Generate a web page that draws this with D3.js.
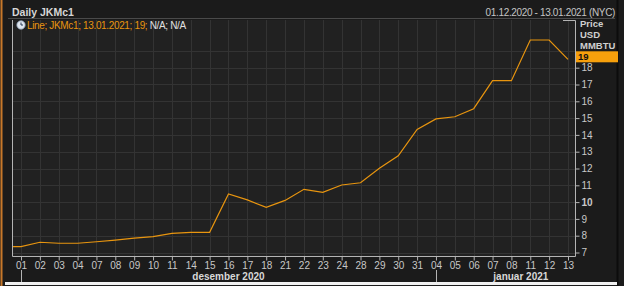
<!DOCTYPE html>
<html>
<head>
<meta charset="utf-8">
<script src="https://cdn.jsdelivr.net/npm/d3@7"></script>
<style>
  body { margin: 0; background: #1b1b1b; }
  svg { display: block; }
  text { font-family: "Liberation Sans", Arial, sans-serif; }
</style>
</head>
<body>
<svg width="624" height="286"></svg>
<script>
// trading days, 01.12.2020 - 13.01.2021
var days = ['01','02','03','04','07','08','09','10','11','14','15','16','17','18','21','22','23','24','28','29','30','31','04','05','06','07','08','11','12','13'];
var prices = [7.35,7.61,7.55,7.55,7.64,7.74,7.85,7.94,8.14,8.2,8.2,10.48,10.13,9.69,10.1,10.76,10.58,11.02,11.15,12.01,12.76,14.33,14.95,15.08,15.56,17.23,17.23,19.65,19.65,18.5];
// month label sits under the middle of the calendar month (index units)
var months = [{name: 'desember 2020', from: 0, mid: 11}, {name: 'januar 2021', from: 22, mid: 26.5}];
var yTicks = [7,8,9,10,11,12,13,14,15,16,17,18];

var svg = d3.select('svg');
var plotLeft = 12, plotRight = 575, plotTop = 20, plotBottom = 256;

var x = d3.scalePoint().domain(d3.range(days.length)).range([21, 568]);
var y = d3.scaleLinear().domain([7, 19]).range([252.5, 50.9]);
var xMid = d3.scaleLinear().domain([0, days.length - 1]).range([21, 568]);

// window chrome
svg.append('rect').attr('x', 0).attr('y', 0).attr('width', 624).attr('height', 286).attr('fill', '#1b1b1b');
svg.append('line').attr('x1', 1.5).attr('x2', 1.5).attr('y1', 0).attr('y2', 286).attr('stroke', '#c8782a').attr('stroke-width', 2);
svg.append('line').attr('x1', 617.5).attr('x2', 617.5).attr('y1', 0).attr('y2', 286).attr('stroke', '#0c0c0c').attr('stroke-width', 2);
svg.append('rect').attr('x', 5).attr('y', 282).attr('width', 612).attr('height', 3).attr('fill', '#f0f0f0');
svg.append('rect').attr('x', 8).attr('y', 18).attr('width', 607).attr('height', 1).attr('fill', '#4a4a4a');

svg.append('text').attr('x', 12).attr('y', 16).attr('fill', '#d6d6d6')
  .style('font-size', '10.5px').style('font-weight', 'bold').text('Daily JKMc1');
svg.append('text').attr('x', 615).attr('y', 16).attr('text-anchor', 'end').attr('fill', '#c4c4c4')
  .style('font-size', '10px').style('letter-spacing', '-0.35px').text('01.12.2020 - 13.01.2021 (NYC)');

// plot area
svg.append('rect').attr('x', plotLeft).attr('y', plotTop).attr('width', plotRight - plotLeft).attr('height', plotBottom - plotTop).attr('fill', '#212121');

svg.append('g').selectAll('line').data(yTicks.concat([19])).enter().append('line')
  .attr('x1', plotLeft).attr('x2', plotRight)
  .attr('y1', function(d) { return Math.round(y(d)) + 0.5; })
  .attr('y2', function(d) { return Math.round(y(d)) + 0.5; })
  .attr('stroke', '#333');
svg.append('g').selectAll('line').data(d3.range(days.length)).enter().append('line')
  .attr('x1', function(d) { return Math.round(x(d)) + 0.5; })
  .attr('x2', function(d) { return Math.round(x(d)) + 0.5; })
  .attr('y1', plotTop).attr('y2', plotBottom)
  .attr('stroke', '#333');

// frame
svg.append('path')
  .attr('d', 'M' + (plotLeft + 0.5) + ',' + plotTop + 'V' + (plotBottom + 0.5) + 'H' + (plotRight + 0.5) + 'V' + (plotTop + 0.5) + 'H' + (plotRight - 12))
  .attr('fill', 'none').attr('stroke', '#b4b4b4');

// the series
var pts = prices.map(function(v, i) { return [x(i), y(v)]; });
pts.unshift([plotLeft + 1, y(prices[0])]);
svg.append('path').datum(pts)
  .attr('d', d3.line())
  .attr('fill', 'none').attr('stroke', '#e8950f').attr('stroke-width', 1.2);

// legend
var leg = svg.append('g');
leg.append('circle').attr('cx', 21).attr('cy', 25).attr('r', 4.2).attr('fill', '#dfe6ee').attr('stroke', '#8a9bb0').attr('stroke-width', 0.8);
leg.append('path').attr('d', 'M21,22.5V25H23').attr('stroke', '#2a3a55').attr('fill', 'none').attr('stroke-width', 1);
var lt = leg.append('text').attr('x', 27).attr('y', 29).style('font-size', '10px').style('letter-spacing', '-0.35px');
lt.append('tspan').attr('fill', '#e8950f').text('Line; JKMc1; 13.01.2021; 19; ');
lt.append('tspan').attr('fill', '#e0e0e0').text('N/A; N/A');

// y axis (right)
var yAxis = d3.axisRight(y).tickValues(yTicks).tickSize(4).tickPadding(2).tickFormat(d3.format('d'));
var ya = svg.append('g').attr('transform', 'translate(' + (plotRight + 0.5) + ',0)').call(yAxis);
ya.select('.domain').remove();
ya.selectAll('line').attr('stroke', '#b4b4b4');
ya.selectAll('text').attr('fill', '#c8c8c8').style('font-size', '10px')
  .style('font-weight', function(d) { return d === 10 ? 'bold' : 'normal'; });

['Price', 'USD', 'MMBTU'].forEach(function(t, i) {
  svg.append('text').attr('x', 580).attr('y', 27 + i * 11).attr('fill', '#d0d0d0')
    .style('font-size', '9.5px').style('font-weight', 'bold').text(t);
});

// last value marker
var last = prices[prices.length - 1];
svg.append('rect').attr('x', 576).attr('y', y(last) - 8).attr('width', 42).attr('height', 11).attr('fill', '#f7a00c');
svg.append('text').attr('x', 578).attr('y', y(last) + 0.5).attr('fill', '#111')
  .style('font-size', '9.5px').style('font-weight', 'bold').text(d3.format('.0f')(last));

// x axis
var xAxis = d3.axisBottom(x).tickSize(4).tickPadding(1).tickFormat(function(i) { return days[i]; });
var xa = svg.append('g').attr('transform', 'translate(0,' + (plotBottom + 0.5) + ')').call(xAxis);
xa.select('.domain').remove();
xa.selectAll('line').attr('stroke', '#b4b4b4');
xa.selectAll('text').attr('fill', '#c8c8c8').style('font-size', '10px');

months.forEach(function(m) {
  svg.append('line').attr('x1', Math.round(x(m.from)) + 0.5).attr('x2', Math.round(x(m.from)) + 0.5)
    .attr('y1', 270).attr('y2', 282).attr('stroke', '#b4b4b4');
  svg.append('text').attr('x', xMid(m.mid)).attr('y', 280)
    .attr('text-anchor', 'middle').attr('fill', '#d8d8d8')
    .style('font-size', '10px').style('font-weight', 'bold').text(m.name);
});
</script>
</body>
</html>
